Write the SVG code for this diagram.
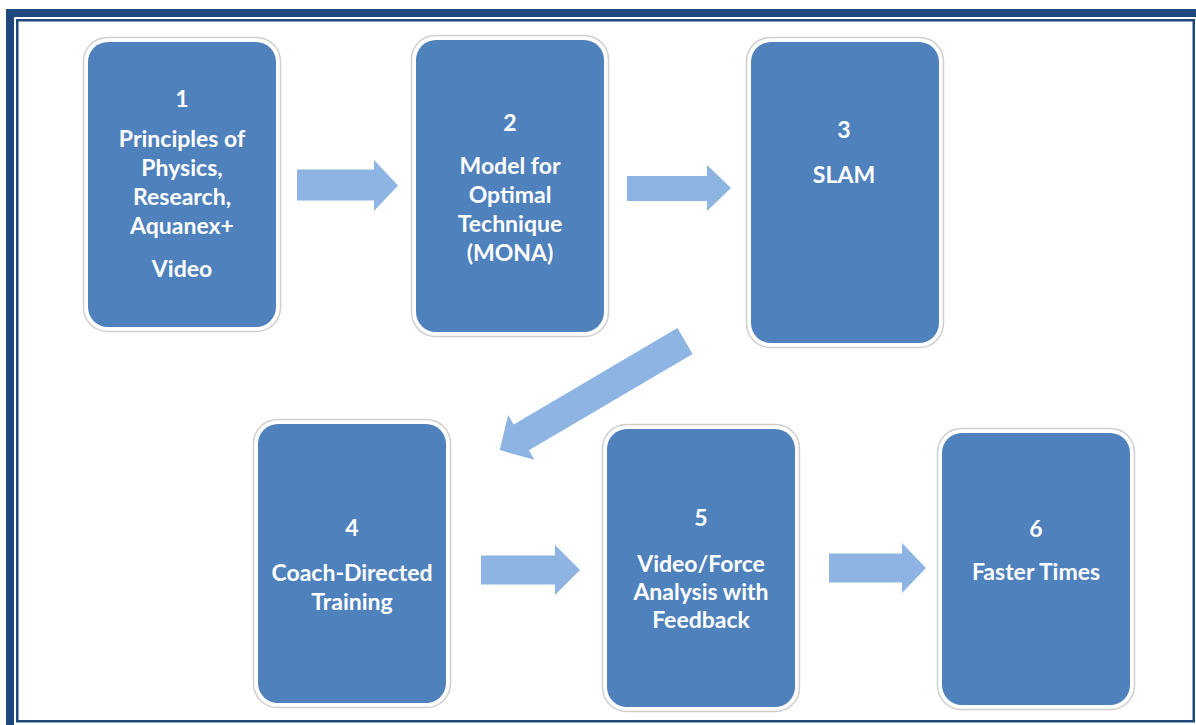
<svg xmlns="http://www.w3.org/2000/svg" width="1196" height="725" viewBox="0 0 1196 725">
  <style>
    .frame { fill: #1F497D; }
    .inner { fill: none; stroke: #1F497D; stroke-width: 2.5; }
    .halo { fill: #ffffff; stroke: #cfcfcf; stroke-width: 1.5; }
    .card { fill: #4F81BD; }
    .lbl { fill: #ffffff; font-family: Lato, "Open Sans", "Liberation Sans", sans-serif; font-weight: bold; font-size: 23px; text-anchor: middle; }
    .arrow { fill: #8DB4E2; }
  </style>

  <!-- page background and double border -->
  <rect x="0" y="0" width="1196" height="725" fill="#ffffff"/>
  <rect class="frame" x="6" y="9" width="8" height="716"/>
  <rect class="frame" x="6" y="9" width="1190" height="8"/>
  <rect class="inner" x="17.25" y="20.25" width="1176.5" height="701"/>

  <!-- step cards -->
  <g id="step1">
    <rect class="halo" x="83.5" y="37.5" width="197" height="294" rx="24"/>
    <rect class="card" x="88" y="42" width="188" height="285" rx="20"/>
    <text class="lbl" x="182" y="107">1</text>
    <text class="lbl" x="182" y="147">Principles of</text>
    <text class="lbl" x="182" y="176">Physics,</text>
    <text class="lbl" x="182" y="205">Research,</text>
    <text class="lbl" x="182" y="234">Aquanex+</text>
    <text class="lbl" x="182" y="277">Video</text>
  </g>

  <g id="step2">
    <rect class="halo" x="411.5" y="35.5" width="197" height="301" rx="24"/>
    <rect class="card" x="416" y="40" width="188" height="292" rx="20"/>
    <text class="lbl" x="510" y="131">2</text>
    <text class="lbl" x="510" y="174">Model for</text>
    <text class="lbl" x="510" y="203">Optimal</text>
    <text class="lbl" x="510" y="232">Technique</text>
    <text class="lbl" x="510" y="261">(MONA)</text>
  </g>

  <g id="step3">
    <rect class="halo" x="746.5" y="37.5" width="197" height="310" rx="24"/>
    <rect class="card" x="751" y="42" width="188" height="301" rx="20"/>
    <text class="lbl" x="844" y="138">3</text>
    <text class="lbl" x="844" y="183">SLAM</text>
  </g>

  <g id="step4">
    <rect class="halo" x="253.5" y="419.5" width="197" height="288" rx="24"/>
    <rect class="card" x="258" y="424" width="188" height="279" rx="20"/>
    <text class="lbl" x="352" y="536">4</text>
    <text class="lbl" x="352" y="581">Coach-Directed</text>
    <text class="lbl" x="352" y="610">Training</text>
  </g>

  <g id="step5">
    <rect class="halo" x="602.5" y="424.5" width="197" height="287" rx="24"/>
    <rect class="card" x="607" y="429" width="188" height="278" rx="20"/>
    <text class="lbl" x="701" y="526">5</text>
    <text class="lbl" x="701" y="572">Video/Force</text>
    <text class="lbl" x="701" y="600">Analysis with</text>
    <text class="lbl" x="701" y="628">Feedback</text>
  </g>

  <g id="step6">
    <rect class="halo" x="937.5" y="428.5" width="197" height="281" rx="24"/>
    <rect class="card" x="942" y="433" width="188" height="272" rx="20"/>
    <text class="lbl" x="1036" y="537">6</text>
    <text class="lbl" x="1036" y="580">Faster Times</text>
  </g>

  <!-- block arrows between steps -->
  <g id="connectors">
    <path class="arrow" d="M297,169.5 H374 V160 L398,185.5 L374,211 V200.5 H297 Z"/>
    <path class="arrow" d="M627,176 H707 V165 L731,188 L707,211 V201 H627 Z"/>
    <path class="arrow" transform="translate(685,341) rotate(149.5)" d="M0,-15 H190 V-26 L215,0 L190,26 V15 H0 Z"/>
    <path class="arrow" d="M481,555.5 H555 V545 L580,570 L555,595 V584.5 H481 Z"/>
    <path class="arrow" d="M829,553.5 H902 V543 L926,568 L902,593 V582.5 H829 Z"/>
  </g>
</svg>
